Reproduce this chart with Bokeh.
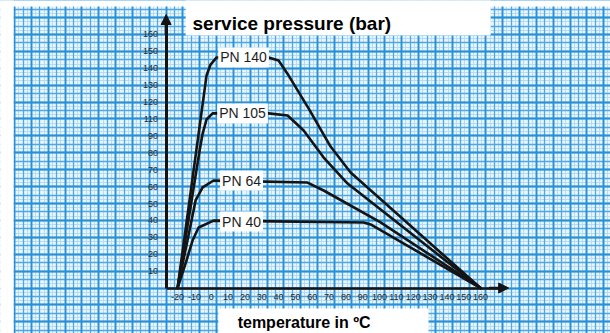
from bokeh.plotting import figure
from bokeh.models import (LinearAxis, Grid, FixedTicker, Range1d,
                          BoxAnnotation, Label, Arrow, NormalHead)
from bokeh.embed import file_html
from bokeh.resources import INLINE
from bokeh.core.properties import value

# ---------------- data (temperature in °C, pressure position on the chart) -------------
series_names = ["PN 140", "PN 105", "PN 64", "PN 40"]

temp_pn140 = [-20, -2.8, -0.4, 3.2, 34.1, 40.0, 46.0, 58.0, 70.9, 82.8, 160]
pres_pn140 = [0, 125.7, 132.2, 136.4, 136.4, 134.6, 125.7, 106.0, 83.7, 68.3, 0]

temp_pn105 = [-20, -6.9, -5.1, -2.8, 0.8, 34.1, 45.4, 54.9, 66.8, 81.0, 160]
pres_pn105 = [0, 81.4, 91.4, 99.7, 103.3, 103.3, 102.1, 93.2, 77.2, 61.8, 0]

temp_pn64 = [-20, -13.5, -9.3, -5.1, 1.4, 57.2, 66.8, 100.6, 160]
pres_pn64 = [0, 31.1, 51.8, 59.5, 63.6, 62.4, 57.7, 38.8, 0]

temp_pn40 = [-20, -14.7, -11.1, -7.5, 1.4, 90.5, 94.7, 160]
pres_pn40 = [0, 16.3, 28.1, 35.8, 39.9, 38.8, 37.6, 0]

label_temp = [19.2, 18.6, 18.0, 18.0]
label_pres = [136.4, 103.3, 63.6, 39.3]

x_ticks = [-20, -10, 0, 10, 20, 30, 40, 50, 60, 70, 80, 90, 100, 110, 120, 130, 140, 150, 160]
x_tick_labels = [str(t) for t in x_ticks]
y_ticks = [10, 20, 30, 40, 50, 60, 70, 80, 90, 100, 110, 120, 130, 140, 150]
y_tick_labels = ["10", "20", "30", "40", "50", "60", "70", "80", "90",
                 "110", "120", "130", "140", "150", "160"]

y_title = "service pressure (bar)"
x_title = "temperature in ºC"

# ---------------- layout constants ----------------
W, H = 610, 333
X0, X1 = -125.2, 237.2
Y0, Y1 = -26.9, 170.1
AX = -26.8          # position of the vertical axis line
X_TIP = 176.7
Y_TIP = 161.8
INK = "#141414"
FONT = "Liberation Sans"

p = figure(width=W, height=H, x_range=Range1d(X0, X1), y_range=Range1d(Y0, Y1),
           x_axis_type=None, y_axis_type=None, toolbar_location=None,
           output_backend="svg", min_border=0,
           background_fill_color="#e9f5fc", outline_line_color=None,
           border_fill_color="white")

# graph paper (lines aligned on the axes)
def paper_lines(origin, lo, hi, step):
    k0 = int((lo - origin) // step) - 1
    k1 = int((hi - origin) // step) + 2
    return [origin + k * step for k in range(k0, k1)]

for step, color, width in [(2.5, "#b6dcf4", 1.0), (5, "#4fa8e1", 1.3), (10, "#2790d6", 1.8)]:
    p.add_layout(Grid(dimension=0, ticker=FixedTicker(ticks=paper_lines(AX, X0, X1, step)),
                      grid_line_color=color, grid_line_width=width))
    p.add_layout(Grid(dimension=1, ticker=FixedTicker(ticks=paper_lines(0, Y0, Y1, step)),
                      grid_line_color=color, grid_line_width=width))

# white paper areas (edges and axis titles)
WHITE = dict(fill_color="white", fill_alpha=1.0, line_color=None)
p.add_layout(BoxAnnotation(left=X0 - 5, right=-117.4, bottom=Y0 - 5, top=Y1 + 5, **WHITE))
p.add_layout(BoxAnnotation(left=X0 - 5, right=X1 + 5, bottom=166.6, top=Y1 + 5, **WHITE))
p.add_layout(BoxAnnotation(left=-15.2, right=166.0, bottom=149.4, top=Y1 + 5, **WHITE))
p.add_layout(BoxAnnotation(left=4.2, right=129.1, bottom=Y0 - 5, top=-12.1, **WHITE))

# curves
for t, pr in [(temp_pn140, pres_pn140), (temp_pn105, pres_pn105),
              (temp_pn64, pres_pn64), (temp_pn40, pres_pn40)]:
    p.line(t, pr, line_color=INK, line_width=2.6, line_join="round", line_cap="round")

# curve labels
p.text(x=label_temp, y=label_pres, text=series_names, text_font=value(FONT),
       text_font_size="14px", text_align="center", text_baseline="middle",
       text_color="#1e1e1e", background_fill_color="white", padding=2)

# axes
AXIS_STYLE = dict(major_tick_line_color=None, minor_tick_line_color=None,
                  major_tick_out=0, major_tick_in=0,
                  major_label_text_font_size="9px", major_label_text_color="#2a2a2a",
                  major_label_text_font=FONT, axis_line_color=INK)
yax = LinearAxis(fixed_location=AX, ticker=FixedTicker(ticks=y_ticks),
                 major_label_overrides={t: s for t, s in zip(y_ticks, y_tick_labels)},
                 bounds=(0, Y_TIP - 4), axis_line_width=3, major_label_standoff=8,
                 **AXIS_STYLE)
p.add_layout(yax, "left")

xax = LinearAxis(fixed_location=0, ticker=FixedTicker(ticks=x_ticks),
                 major_label_overrides={t: s for t, s in zip(x_ticks, x_tick_labels)},
                 bounds=(AX, X_TIP - 4), axis_line_width=2.6, major_label_standoff=6,
                 **AXIS_STYLE)
p.add_layout(xax, "below")

p.add_layout(Arrow(end=NormalHead(size=10, fill_color=INK, line_color=INK),
                   x_start=AX, y_start=150, x_end=AX, y_end=Y_TIP,
                   line_width=3, line_color=INK))
p.add_layout(Arrow(end=NormalHead(size=10, fill_color=INK, line_color=INK),
                   x_start=165, y_start=0, x_end=X_TIP, y_end=0,
                   line_width=2.6, line_color=INK))

# axis titles
p.add_layout(Label(x=-11.1, y=156.5, text=y_title, text_font=FONT, text_font_size="19px",
                   text_font_style="bold", text_baseline="middle", text_align="left",
                   text_color="black"))
p.add_layout(Label(x=15.7, y=-20.4, text=x_title, text_font=FONT, text_font_size="16px",
                   text_font_style="bold", text_baseline="middle", text_align="left",
                   text_color="black"))

open("out.html", "w").write(file_html(p, INLINE))
